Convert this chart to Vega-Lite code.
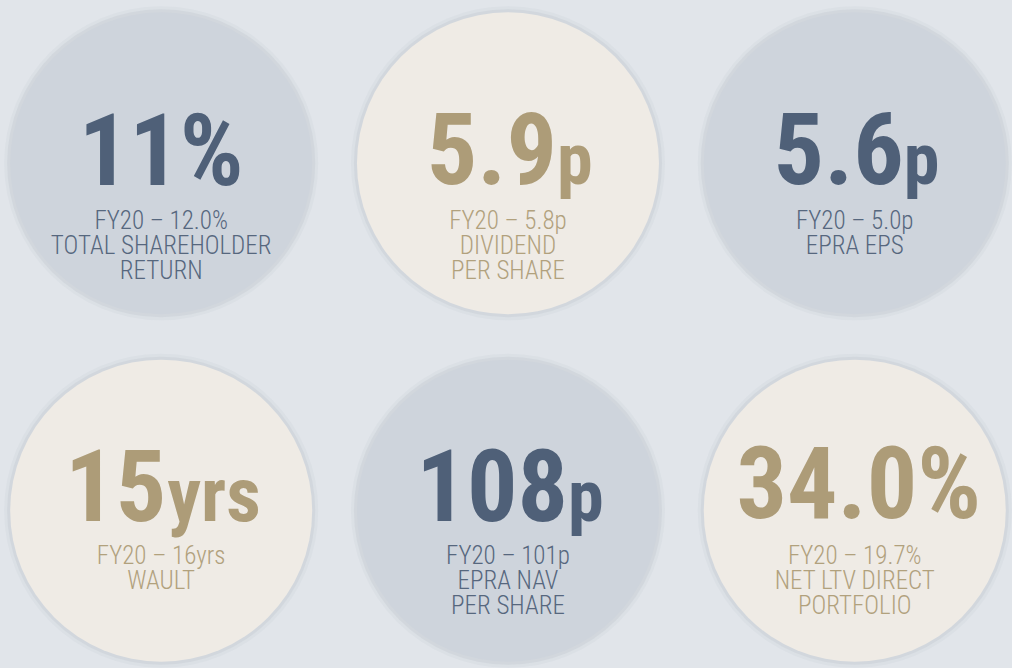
{
  "$schema": "https://vega.github.io/schema/vega-lite/v6.json",
  "width": 1012,
  "height": 668,
  "autosize": {"type": "fit", "contains": "padding"},
  "padding": 0,
  "background": "#e1e5ea",
  "config": {"view": {"stroke": null}},
  "data": {
    "values": [
      {"col": 0, "row": 0, "theme": "blue", "value": "11%", "unit": "", "note": "FY20 – 12.0%\nTOTAL SHAREHOLDER\nRETURN"},
      {"col": 1, "row": 0, "theme": "cream", "value": "5.9", "unit": "p", "note": "FY20 – 5.8p\nDIVIDEND\nPER SHARE"},
      {"col": 2, "row": 0, "theme": "blue", "value": "5.6", "unit": "p", "note": "FY20 – 5.0p\nEPRA EPS"},
      {"col": 0, "row": 1, "theme": "cream", "value": "15", "unit": "yrs", "note": "FY20 – 16yrs\nWAULT"},
      {"col": 1, "row": 1, "theme": "blue", "value": "108", "unit": "p", "note": "FY20 – 101p\nEPRA NAV\nPER SHARE"},
      {"col": 2, "row": 1, "theme": "cream", "value": "34.0%", "unit": "", "note": "FY20 – 19.7%\nNET LTV DIRECT\nPORTFOLIO"}
    ]
  },
  "encoding": {
    "x": {"field": "col", "type": "quantitative", "scale": {"domain": [-0.4648, 2.439], "nice": false, "zero": false}, "axis": null},
    "y": {"field": "row", "type": "quantitative", "scale": {"domain": [-0.4699, 1.4441], "nice": false, "zero": false, "reverse": true}, "axis": null}
  },
  "resolve": {"scale": {"color": "independent"}},
  "layer": [
    {
      "mark": {"type": "point", "filled": true, "shape": "circle", "size": 98600, "color": "#9aa4b0", "opacity": 0.08, "strokeWidth": 0}
    },
    {
      "mark": {"type": "point", "filled": true, "shape": "circle", "size": 94900, "color": "#9aa4b0", "opacity": 0.14, "strokeWidth": 0}
    },
    {
      "mark": {"type": "point", "filled": true, "shape": "circle", "size": 91200, "opacity": 1, "strokeWidth": 0},
      "encoding": {
        "color": {"field": "theme", "type": "nominal", "scale": {"domain": ["blue", "cream"], "range": ["#ced4dc", "#efebe5"]}, "legend": null}
      }
    },
    {
      "transform": [{"filter": "datum.unit == '' && datum.row == 0"}],
      "mark": {"type": "text", "font": "Roboto Condensed", "fontWeight": "bold", "fontSize": 100, "align": "center", "baseline": "alphabetic", "dy": 22},
      "encoding": {
        "text": {"field": "value"},
        "color": {"field": "theme", "type": "nominal", "scale": {"domain": ["blue", "cream"], "range": ["#4f6078", "#ad9c78"]}, "legend": null}
      }
    },
    {
      "transform": [{"filter": "datum.unit == '' && datum.row == 1"}],
      "mark": {"type": "text", "font": "Roboto Condensed", "fontWeight": "bold", "fontSize": 100, "align": "center", "baseline": "alphabetic", "dx": 4, "dy": 7},
      "encoding": {
        "text": {"field": "value"},
        "color": {"field": "theme", "type": "nominal", "scale": {"domain": ["blue", "cream"], "range": ["#4f6078", "#ad9c78"]}, "legend": null}
      }
    },
    {
      "transform": [{"filter": "datum.unit == 'p' && datum.row == 0"}],
      "layer": [
        {
          "mark": {"type": "text", "font": "Roboto Condensed", "fontWeight": "bold", "fontSize": 100, "align": "right", "baseline": "alphabetic", "dx": 49, "dy": 21},
          "encoding": {"text": {"field": "value"}}
        },
        {
          "mark": {"type": "text", "font": "Roboto Condensed", "fontWeight": "bold", "fontSize": 72, "align": "left", "baseline": "alphabetic", "dx": 49, "dy": 21},
          "encoding": {"text": {"field": "unit"}}
        }
      ],
      "encoding": {
        "color": {"field": "theme", "type": "nominal", "scale": {"domain": ["blue", "cream"], "range": ["#4f6078", "#ad9c78"]}, "legend": null}
      }
    },
    {
      "transform": [{"filter": "datum.value == '15'"}],
      "layer": [
        {
          "mark": {"type": "text", "font": "Roboto Condensed", "fontWeight": "bold", "fontSize": 100, "align": "right", "baseline": "alphabetic", "dx": 5, "dy": 10},
          "encoding": {"text": {"field": "value"}}
        },
        {
          "mark": {"type": "text", "font": "Roboto Condensed", "fontWeight": "bold", "fontSize": 76, "align": "left", "baseline": "alphabetic", "dx": 6, "dy": 10},
          "encoding": {"text": {"field": "unit"}}
        }
      ],
      "encoding": {
        "color": {"field": "theme", "type": "nominal", "scale": {"domain": ["blue", "cream"], "range": ["#4f6078", "#ad9c78"]}, "legend": null}
      }
    },
    {
      "transform": [{"filter": "datum.value == '108'"}],
      "layer": [
        {
          "mark": {"type": "text", "font": "Roboto Condensed", "fontWeight": "bold", "fontSize": 100, "align": "right", "baseline": "alphabetic", "dx": 60, "dy": 10},
          "encoding": {"text": {"field": "value"}}
        },
        {
          "mark": {"type": "text", "font": "Roboto Condensed", "fontWeight": "bold", "fontSize": 72, "align": "left", "baseline": "alphabetic", "dx": 60, "dy": 10},
          "encoding": {"text": {"field": "unit"}}
        }
      ],
      "encoding": {
        "color": {"field": "theme", "type": "nominal", "scale": {"domain": ["blue", "cream"], "range": ["#4f6078", "#ad9c78"]}, "legend": null}
      }
    },
    {
      "transform": [{"filter": "datum.row == 0"}],
      "mark": {"type": "text", "font": "Roboto Condensed", "fontWeight": 300, "fontSize": 25, "align": "center", "baseline": "alphabetic", "lineBreak": "\n", "lineHeight": 25, "dy": 66},
      "encoding": {
        "text": {"field": "note"},
        "color": {"field": "theme", "type": "nominal", "scale": {"domain": ["blue", "cream"], "range": ["#56677e", "#b1a17d"]}, "legend": null}
      }
    },
    {
      "transform": [{"filter": "datum.row == 1"}],
      "mark": {"type": "text", "font": "Roboto Condensed", "fontWeight": 300, "fontSize": 25, "align": "center", "baseline": "alphabetic", "lineBreak": "\n", "lineHeight": 25, "dy": 53},
      "encoding": {
        "text": {"field": "note"},
        "color": {"field": "theme", "type": "nominal", "scale": {"domain": ["blue", "cream"], "range": ["#56677e", "#b1a17d"]}, "legend": null}
      }
    }
  ]
}
